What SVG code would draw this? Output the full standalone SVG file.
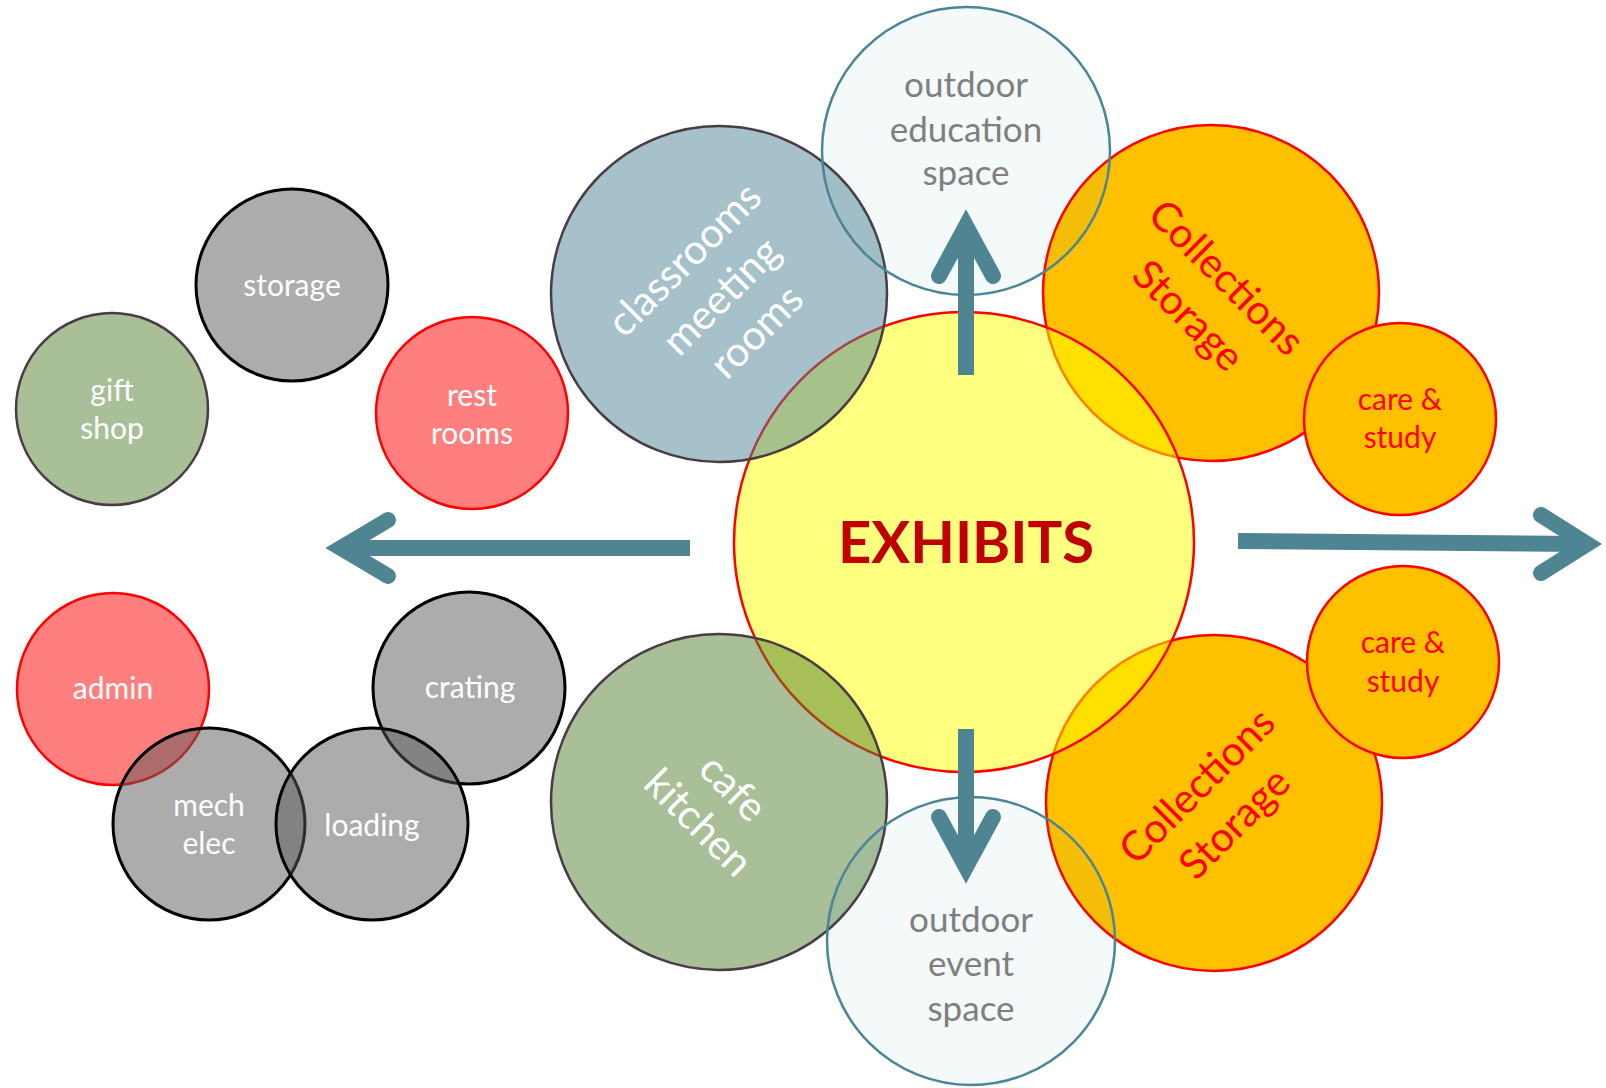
<svg xmlns="http://www.w3.org/2000/svg" width="1606" height="1088" viewBox="0 0 1606 1088">
<style>
text { font-family: Lato, "Liberation Sans", sans-serif; text-anchor: middle; }
.sm { font-size: 30px; }
.od { font-size: 35px; fill: #7f7f7f; }
.big { font-size: 41px; }
.white { fill: #ffffff; }
.red { fill: #ff0000; }
.gray { fill: #595959; fill-opacity: 0.5; stroke: #000000; stroke-width: 3; }
.pink { fill: #ff0000; fill-opacity: 0.5; stroke: #ff0000; stroke-width: 2.5; }
.green { fill: #517f31; fill-opacity: 0.5; stroke: #4a3c44; stroke-width: 2.5; }
.blue { fill: #4e8394; fill-opacity: 0.5; stroke: #4a3c44; stroke-width: 2.5; }
.orange { fill: #ffc000; stroke: #ff0000; stroke-width: 2.5; }
.yellow { fill: #ffff00; fill-opacity: 0.5; stroke: #ff0000; stroke-width: 2.5; }
.outdoor { fill: #31859c; fill-opacity: 0.05; stroke: #4a8599; stroke-width: 2.5; }
.shaft { stroke: #4f8593; stroke-width: 16; fill: none; stroke-linecap: butt; }
.head { stroke: #4f8593; stroke-width: 16; fill: none; stroke-linecap: round; stroke-linejoin: miter; stroke-miterlimit: 10; }
</style>
<rect width="1606" height="1088" fill="#ffffff"/>

<g id="gift-shop">
  <circle class="green" cx="112" cy="409" r="96"/>
  <text class="sm white" x="112" y="401">gift</text>
  <text class="sm white" x="112" y="439">shop</text>
</g>
<g id="storage">
  <circle class="gray" cx="292" cy="285" r="96"/>
  <text class="sm white" x="292" y="296">storage</text>
</g>
<g id="rest-rooms">
  <circle class="pink" cx="472" cy="413" r="96"/>
  <text class="sm white" x="472" y="406">rest</text>
  <text class="sm white" x="472" y="444">rooms</text>
</g>
<g id="admin">
  <circle class="pink" cx="113" cy="689" r="96"/>
  <text class="sm white" x="113" y="699">admin</text>
</g>
<g id="crating">
  <circle class="gray" cx="469" cy="688" r="96"/>
  <text class="sm white" x="470" y="698">crating</text>
</g>
<g id="mech-elec">
  <circle class="gray" cx="209" cy="824" r="96"/>
  <text class="sm white" x="209" y="816">mech</text>
  <text class="sm white" x="209" y="854">elec</text>
</g>
<g id="loading">
  <circle class="gray" cx="372" cy="824" r="96"/>
  <text class="sm white" x="372" y="836">loading</text>
</g>

<g id="collections-storage-top">
  <circle class="orange" cx="1211" cy="293" r="168"/>
  <g transform="translate(1211,293) rotate(45)">
    <text class="big red" x="0" y="-8">Collections</text>
    <text class="big red" x="0" y="46">Storage</text>
  </g>
</g>
<g id="care-study-top">
  <circle class="orange" cx="1400" cy="419" r="96"/>
  <text class="sm red" x="1400" y="410">care &amp;</text>
  <text class="sm red" x="1400" y="448">study</text>
</g>
<g id="collections-storage-bottom">
  <circle class="orange" cx="1214" cy="803" r="168"/>
  <g transform="translate(1214,803) rotate(-45)">
    <text class="big red" x="0" y="-10">Collections</text>
    <text class="big red" x="0" y="43">Storage</text>
  </g>
</g>
<g id="care-study-bottom">
  <circle class="orange" cx="1403" cy="662" r="96"/>
  <text class="sm red" x="1403" y="653">care &amp;</text>
  <text class="sm red" x="1403" y="692">study</text>
</g>

<g id="exhibits">
  <circle class="yellow" cx="964" cy="542" r="230"/>
  <text x="966" y="563" style="font-size:58px;font-weight:bold;fill:#c00000">EXHIBITS</text>
</g>

<g id="classrooms">
  <circle class="blue" cx="719" cy="294" r="168"/>
  <g transform="translate(719,294) rotate(-45)">
    <text class="big white" x="0" y="-35">classrooms</text>
    <text class="big white" x="0" y="17">meeting</text>
    <text class="big white" x="0" y="67">rooms</text>
  </g>
</g>
<g id="cafe-kitchen">
  <circle class="green" cx="719" cy="802" r="168"/>
  <g transform="translate(719,802) rotate(45)">
    <text class="big white" x="0" y="-6">cafe</text>
    <text class="big white" x="0" y="43">kitchen</text>
  </g>
</g>

<g id="outdoor-education">
  <circle class="outdoor" cx="966" cy="151" r="144"/>
  <text class="od" x="966" y="97">outdoor</text>
  <text class="od" x="966" y="142">education</text>
  <text class="od" x="966" y="185">space</text>
</g>
<g id="outdoor-event">
  <circle class="outdoor" cx="971" cy="941" r="144"/>
  <text class="od" x="971" y="932">outdoor</text>
  <text class="od" x="971" y="976">event</text>
  <text class="od" x="971" y="1021">space</text>
</g>

<g id="connectors">
  <line class="shaft" x1="966" y1="375" x2="966" y2="232"/>
  <polyline class="head" points="939,276 966,226 993,276"/>
  <line class="shaft" x1="966" y1="729" x2="966" y2="862"/>
  <polyline class="head" points="939,817 966,867 993,817"/>
  <line class="shaft" x1="690" y1="548" x2="347" y2="548"/>
  <polyline class="head" points="388,520 341,548 388,576"/>
  <line class="shaft" x1="1238" y1="541" x2="1581" y2="544"/>
  <polyline class="head" points="1541,515 1587,544 1541,573"/>
</g>
</svg>
